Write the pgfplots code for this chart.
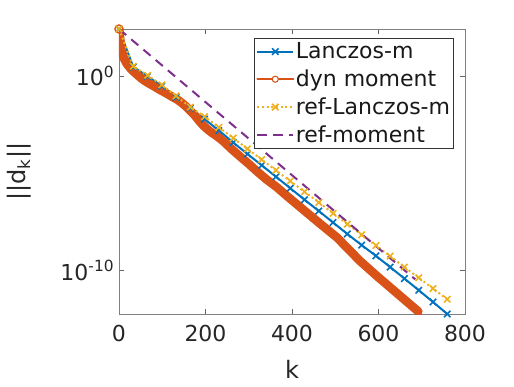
\documentclass[border=0pt]{standalone}
\usepackage{fontspec}
\setmainfont{DejaVu Sans}
\usepackage{pgfplots}
\pgfplotsset{compat=1.18}

\definecolor{mblue}{rgb}{0,0.447,0.741}
\definecolor{morange}{rgb}{0.85,0.325,0.098}
\definecolor{myellow}{rgb}{0.929,0.694,0.125}
\definecolor{mpurple}{rgb}{0.494,0.184,0.556}

\begin{document}
\begin{tikzpicture}
\begin{axis}[
  width=259.5pt, height=213.75pt, scale only axis,
  ymode=log,
  xmin=0, xmax=800, ymin=5.89e-13, ymax=257,
  xtick={0,200,400,600,800},
  ytick={1e-10,1},
  yticklabels={10\textsuperscript{-10},10\textsuperscript{0}},
  yminorticks=false,
  tick align=inside, tick pos=both, major tick length=3.5pt,
  axis line style={black!50, line width=0.6pt},
  every tick/.style={black!60, line width=0.5pt},
  tick label style={font=\fontsize{16.5}{19}\selectfont, text=black!85},
  xticklabel style={yshift=-5pt},
  /pgf/number format/assume math mode=true,
  xlabel={k}, ylabel={||d\textsubscript{k}||},
  every axis x label/.style={at={(axis description cs:0.5,-0.196)}, anchor=center,
    font=\fontsize{18}{21}\selectfont, text=black!85},
  every axis y label/.style={at={(axis description cs:-0.289,0.5)}, anchor=center, rotate=90,
    font=\fontsize{18}{21}\selectfont, text=black!85},
  legend style={at={(1,1)}, anchor=north east, xshift=-8.25pt, yshift=-6.75pt,
    draw=black!80, line width=0.5pt, font=\fontsize{16.5}{19}\selectfont,
    inner xsep=1.5pt, inner ysep=2pt, row sep=4.5pt, nodes={inner sep=1.2pt, text=black!90}},
  legend cell align=left,
  legend image code/.code={\draw[mark repeat=2,mark phase=2,#1] plot coordinates {(0pt,0pt) (13.5pt,0pt) (27pt,0pt)};},
]
% Lanczos-m
\addplot[mblue, line width=1.5pt, mark=x, mark size=3.4pt, mark options={solid, line width=1.2pt}] coordinates {
(0,257) (33,2.88) (66,0.955) (99,0.302) (132,0.0794) (165,0.0219)
(198,6.03e-3) (231,1.55e-3) (264,3.80e-4) (297,9.77e-5) (330,2.57e-5)
(363,6.61e-6) (396,1.70e-6) (429,4.37e-7) (462,1.15e-7) (495,2.95e-8)
(528,7.59e-9) (561,2.04e-9) (594,5.75e-10) (627,1.51e-10) (660,3.89e-11)
(693,9.77e-12) (726,2.45e-12) (759,5.89e-13)
};
% dyn moment
\addplot[morange, line width=6.5pt, line join=round, line cap=round,
  mark=o, mark size=3pt, mark options={line width=1.2pt}, mark repeat=1000,
  legend image code/.code={\draw[morange, line width=1.5pt] (0pt,0pt) -- (27pt,0pt);
    \draw[morange, line width=0.8pt, fill=white] (13.5pt,0pt) circle (2.3pt);}] coordinates {
(0,257) (2,112) (4,44.7) (7,17.8) (11,8.32) (18,4.17) (26,2.51) (35,1.58)
(45,1.0) (56,0.631) (68,0.427) (80,0.302) (95,0.191) (110,0.126) (122,0.0871)
(135,0.0603) (146,0.0398) (155,0.0269) (165,0.0158) (175,9.55e-3) (185,5.01e-3)
(195,2.82e-3) (205,1.78e-3) (215,1.20e-3) (228,7.59e-4) (242,4.27e-4)
(260,1.78e-4) (280,7.24e-5) (300,3.02e-5) (319,1.26e-5) (340,5.01e-6)
(365,1.91e-6) (390,6.31e-7) (426,1.35e-7) (460,3.16e-8) (504,5.01e-9)
(557,3.16e-10) (600,4.47e-11) (650,5.01e-12) (692,7.94e-13)
};
% ref-Lanczos-m
\addplot[myellow, line width=1.5pt, dash pattern=on 1.5pt off 2pt, mark=x, mark size=3.4pt, mark options={solid, line width=1.2pt}] coordinates {
(0,257) (33,3.16) (66,1.07) (99,0.347) (132,0.0933) (165,0.0251)
(198,8.13e-3) (231,2.29e-3) (264,6.46e-4) (297,1.78e-4) (330,5.01e-5)
(363,1.41e-5) (396,3.98e-6) (429,1.12e-6) (462,3.16e-7) (495,8.71e-8)
(528,2.45e-8) (561,6.92e-9) (594,1.95e-9) (627,5.50e-10) (660,1.51e-10)
(693,4.27e-11) (726,1.20e-11) (759,3.39e-12)
};
% ref-moment
\addplot[mpurple, line width=1.5pt, dash pattern=on 7pt off 5pt] coordinates {
(0,257) (685,3.55e-11)
};
\legend{Lanczos-m, dyn moment, ref-Lanczos-m, ref-moment}
\end{axis}
\path (current axis.south west) ++(-89.25pt,-54pt) rectangle ++(385.5pt,289.5pt);
\end{tikzpicture}
\end{document}
